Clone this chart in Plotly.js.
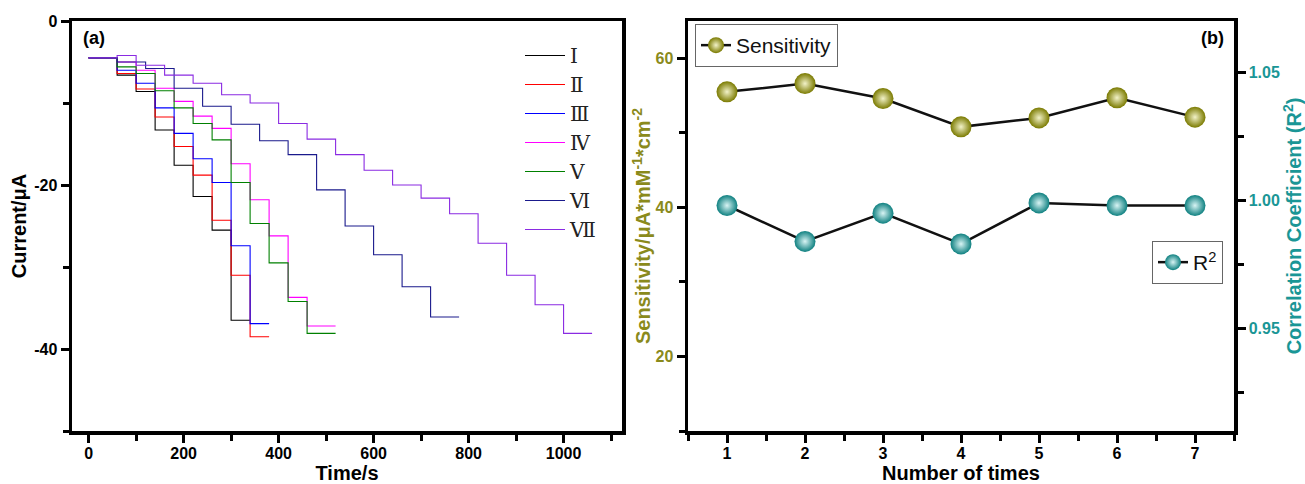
<!DOCTYPE html>
<html>
<head>
<meta charset="utf-8">
<script src="https://cdn.plot.ly/plotly-3.0.1.min.js"></script>
<style>html,body{margin:0;padding:0;background:#fff;}#chart{width:1305px;height:484px;}</style>
</head>
<body>
<div id="chart"></div>
<script>
// ---------- Panel (a): amperometric i-t curves (step times in s, current levels in µA) ----------
const seriesNames = ['Ⅰ', 'Ⅱ', 'Ⅲ', 'Ⅳ', 'Ⅴ', 'Ⅵ', 'Ⅶ'];

const timesI = [0, 60, 100, 140, 180, 220, 260, 300, 340];
const levelsI = [-4.5, -6.6, -8.6, -13.3, -17.6, -21.4, -25.5, -36.5];

const timesII = [0, 60, 100, 140, 180, 220, 260, 300, 340, 380];
const levelsII = [-4.5, -6.4, -8.3, -11.7, -15.3, -18.8, -24.3, -31.0, -38.5];

const timesIII = [0, 60, 100, 140, 180, 220, 260, 300, 340, 380];
const levelsIII = [-4.5, -6.0, -7.6, -10.6, -13.7, -16.8, -19.7, -27.4, -36.9];

const timesIV = [0, 60, 100, 140, 180, 220, 260, 300, 340, 380, 420, 460, 520];
const levelsIV = [-4.5, -5.0, -6.0, -8.2, -9.8, -11.6, -13.1, -17.4, -21.8, -26.2, -33.7, -37.2];

const timesV = [0, 60, 100, 140, 180, 220, 260, 300, 340, 380, 420, 460, 520];
const levelsV = [-4.5, -5.6, -6.4, -8.5, -10.6, -12.5, -14.5, -19.7, -24.7, -29.5, -34.2, -38.1];

const timesVI = [0, 60, 120, 180, 240, 300, 360, 420, 480, 540, 600, 660, 720, 780];
const levelsVI = [-4.5, -5.0, -5.8, -8.2, -10.4, -12.6, -14.6, -16.3, -20.6, -25.0, -28.5, -32.4, -36.1];

const timesVII = [0, 60, 100, 160, 220, 280, 340, 400, 460, 520, 580, 640, 700, 760, 820, 880, 940, 1000, 1060];
const levelsVII = [-4.5, -4.2, -5.4, -6.6, -7.6, -9.0, -10.0, -12.5, -14.4, -16.3, -18.2, -20.0, -21.6, -23.5, -27.1, -31.0, -34.6, -38.1];

const yTickValsA = [0, -20, -40];
const yTickTextA = ['0', '-20', '-40'];

// ---------- Panel (b): reproducibility ----------
const runNumbers = [1, 2, 3, 4, 5, 6, 7];
const sensitivity = [55.5, 56.6, 54.6, 50.8, 52.0, 54.7, 52.1];
const rSquared = [0.998, 0.984, 0.995, 0.983, 0.999, 0.998, 0.998];

const xTickLabelsB = ['1', '2', '3', '4', '5', '6', '7'];

// ---------- build ----------
const allTimes = [timesI, timesII, timesIII, timesIV, timesV, timesVI, timesVII];
const allLevels = [levelsI, levelsII, levelsIII, levelsIV, levelsV, levelsVI, levelsVII];
const lineColors = ['#000000', '#ff0000', '#0000ff', '#ff00ff', '#008000', '#1a1a8c', '#8a2be2'];

const traces = [];
for (let i = 0; i < allTimes.length; i++) {
  const lv = allLevels[i];
  traces.push({
    type: 'scatter', mode: 'lines',
    x: allTimes[i],
    y: lv.concat([lv[lv.length - 1]]),
    line: {color: lineColors[i], width: 1.1, shape: 'hv'},
    name: seriesNames[i],
    xaxis: 'x', yaxis: 'y',
    legend: 'legend'
  });
}

const olive = '#8a8a1c';
const teal = '#1a9696';

traces.push({
  type: 'scatter', mode: 'lines+markers',
  x: runNumbers, y: sensitivity,
  name: 'Sensitivity',
  line: {color: '#111', width: 2.5},
  marker: {size: 21, color: '#7a7a00', line: {width: 0}, gradient: {type: 'radial', color: '#f2f2c8'}},
  xaxis: 'x2', yaxis: 'y2', legend: 'legend2'
});
traces.push({
  type: 'scatter', mode: 'lines+markers',
  x: runNumbers, y: rSquared,
  name: 'R<sup>2</sup>',
  line: {color: '#111', width: 2.5},
  marker: {size: 21, color: '#0e8080', line: {width: 0}, gradient: {type: 'radial', color: '#d8f4f4'}},
  xaxis: 'x2', yaxis: 'y3', legend: 'legend3'
});

const W = 1305, H = 484;
const boldFont = (size, color) => ({family: 'Liberation Sans, Arial, sans-serif', size: size, color: color || '#000', weight: 'bold'});

const minorTicks = {ticklen: 6, tickwidth: 3, tickcolor: '#000', ticks: 'outside'};
const axisCommon = {
  showline: true, linecolor: '#000', linewidth: 3.5,
  ticks: 'outside', ticklen: 8, tickwidth: 3, tickcolor: '#000',
  showgrid: false, zeroline: false, fixedrange: true
};

const yDom = [(H - 431) / H, (H - 21) / H];

const layout = {
  width: W, height: H,
  margin: {l: 0, r: 0, t: 0, b: 0},
  paper_bgcolor: '#fff', plot_bgcolor: '#fff',
  showlegend: true,
  xaxis: Object.assign({}, axisCommon, {
    domain: [72 / W, 622 / W], range: [-35, 1123],
    tick0: 0, dtick: 200, mirror: true,
    minor: Object.assign({dtick: 100}, minorTicks),
    tickfont: boldFont(16), ticklabelstandoff: -3,
    title: {text: 'Time/s', font: boldFont(20), standoff: 2},
    anchor: 'y'
  }),
  yaxis: Object.assign({}, axisCommon, {
    domain: yDom, range: [-50, 0],
    tickmode: 'array', tickvals: yTickValsA, ticktext: yTickTextA, mirror: true,
    minor: Object.assign({dtick: 10, tick0: 0}, minorTicks),
    tickfont: boldFont(16),
    title: {text: 'Current/μA', font: boldFont(20), standoff: 3},
    anchor: 'x'
  }),
  xaxis2: Object.assign({}, axisCommon, {
    domain: [688 / W, 1234 / W], range: [0.5, 7.5],
    tickmode: 'array', tickvals: runNumbers, ticktext: xTickLabelsB, mirror: true,
    minor: Object.assign({dtick: 0.5, tick0: 0.5}, minorTicks),
    tickfont: boldFont(16), ticklabelstandoff: -3,
    title: {text: 'Number of times', font: boldFont(20), standoff: 2},
    anchor: 'y2'
  }),
  yaxis2: Object.assign({}, axisCommon, {
    domain: yDom, range: [10, 65],
    tick0: 0, dtick: 20,
    minor: Object.assign({dtick: 10, tick0: 0}, minorTicks),
    tickfont: boldFont(16, olive),
    title: {text: 'Sensitivity/μA*mM<sup>-1</sup>*cm<sup>-2</sup>', font: boldFont(20, olive), standoff: 0},
    anchor: 'x2'
  }),
  yaxis3: Object.assign({}, axisCommon, {
    domain: yDom, range: [0.91, 1.07],
    tick0: 0.95, dtick: 0.05, tickformat: '.2f',
    minor: Object.assign({dtick: 0.025, tick0: 0.925}, minorTicks),
    tickfont: boldFont(16, teal),
    title: {text: 'Correlation Coefficient (R<sup>2</sup>)', font: boldFont(20, teal), standoff: 8},
    overlaying: 'y2', side: 'right', anchor: 'x2'
  }),
  legend: {
    x: 520 / W, y: 1 - 36 / H, xanchor: 'left', yanchor: 'top',
    font: {family: 'DejaVu Serif, Liberation Serif, serif', size: 20, color: '#222'},
    bgcolor: 'rgba(0,0,0,0)', borderwidth: 0, itemwidth: 40
  },
  legend2: {
    x: 695 / W, y: 1 - 24 / H, xanchor: 'left', yanchor: 'top',
    font: {family: 'Liberation Sans, Arial, sans-serif', size: 21, color: '#111'},
    bgcolor: '#fff', bordercolor: '#666', borderwidth: 1
  },
  legend3: {
    x: 1223 / W, y: 1 - 241 / H, xanchor: 'right', yanchor: 'top',
    font: {family: 'Liberation Sans, Arial, sans-serif', size: 21, color: '#111'},
    bgcolor: '#fff', bordercolor: '#666', borderwidth: 1
  },
  annotations: [
    {text: '(a)', xref: 'paper', yref: 'paper', x: 81 / W, y: 1 - 38 / H, xanchor: 'left', yanchor: 'middle', showarrow: false, font: boldFont(18)},
    {text: '(b)', xref: 'paper', yref: 'paper', x: 1226 / W, y: 1 - 38 / H, xanchor: 'right', yanchor: 'middle', showarrow: false, font: boldFont(18)}
  ]
};

Plotly.newPlot('chart', traces, layout, {displayModeBar: false, staticPlot: true});
</script>
</body>
</html>
